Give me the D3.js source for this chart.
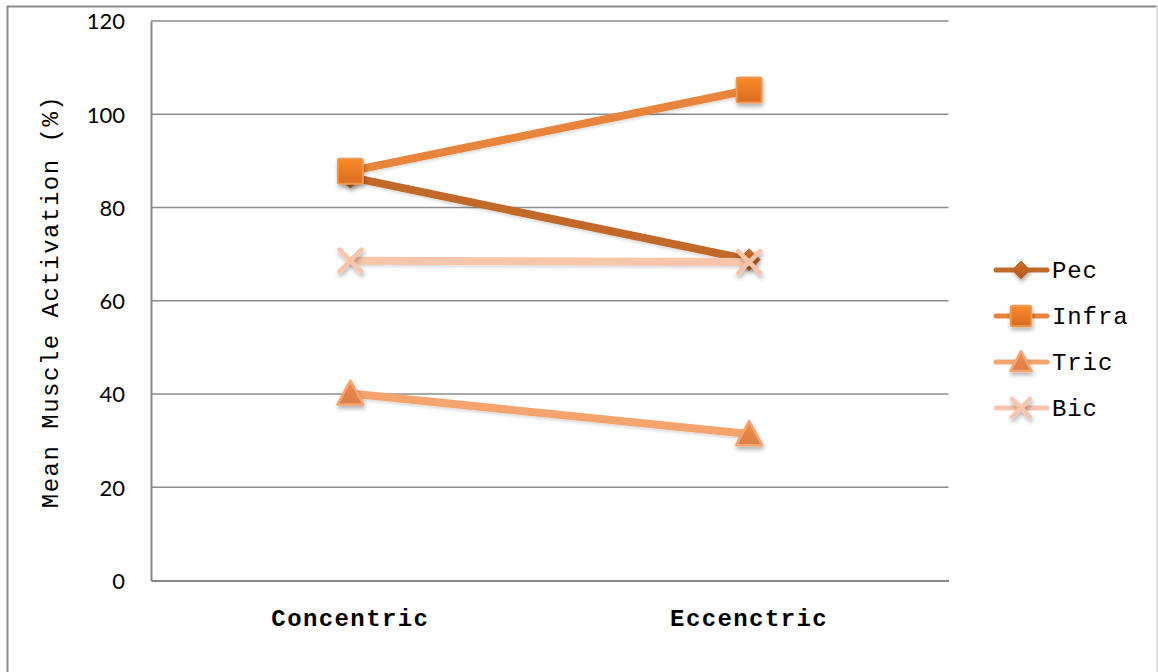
<!DOCTYPE html>
<html>
<head>
<meta charset="utf-8">
<script src="https://cdn.jsdelivr.net/npm/d3@7"></script>
<style>
html,body{margin:0;padding:0;background:#fff;}
svg{display:block;}
</style>
</head>
<body>
<svg id="chart" width="1158" height="672"></svg>
<script>
const categories = ["Concentric", "Eccentric"];
const categoryLabels = ["Concentric", "Eccenctric"];
const seriesNames = ["Pec", "Infra", "Tric", "Bic"];
const pecValues = [86.5, 68.8];
const infraValues = [87.8, 105.2];
const tricValues = [40.1, 31.4];
const bicValues = [68.6, 68.3];
const yTicks = [0, 20, 40, 60, 80, 100, 120];
const yTitle = "Mean Muscle Activation (%)";

const series = [
  {name: seriesNames[0], values: pecValues, color: "#C2692C", marker: "diamond"},
  {name: seriesNames[1], values: infraValues, color: "#E8843A", marker: "square"},
  {name: seriesNames[2], values: tricValues, color: "#F5A46E", marker: "triangle"},
  {name: seriesNames[3], values: bicValues, color: "#F7C5AA", marker: "cross"}
];

const svg = d3.select("#chart");
const mLeft = 151, mRight = 948.5, mTop = 21, mBottom = 580.5;
const mono = "'Liberation Mono', 'Courier New', monospace";

const defs = svg.append("defs");
const f = defs.append("filter").attr("id", "shadow").attr("x", "-50%").attr("y", "-50%").attr("width", "200%").attr("height", "200%");
f.append("feDropShadow").attr("dx", 1).attr("dy", 3).attr("stdDeviation", 2).attr("flood-color", "#000").attr("flood-opacity", 0.3);
const fl = defs.append("filter").attr("id", "lshadow").attr("filterUnits", "userSpaceOnUse")
  .attr("x", 0).attr("y", 0).attr("width", 1158).attr("height", 672);
fl.append("feDropShadow").attr("dx", 0).attr("dy", 2).attr("stdDeviation", 1.5).attr("flood-color", "#000").attr("flood-opacity", 0.15);

const gradSq = defs.append("linearGradient").attr("id", "gSq").attr("x1", 0).attr("y1", 0).attr("x2", 0).attr("y2", 1);
gradSq.append("stop").attr("offset", "0%").attr("stop-color", "#F98B2A");
gradSq.append("stop").attr("offset", "100%").attr("stop-color", "#D96C1F");
const gradDi = defs.append("linearGradient").attr("id", "gDi").attr("x1", 0).attr("y1", 0).attr("x2", 0).attr("y2", 1);
gradDi.append("stop").attr("offset", "0%").attr("stop-color", "#D06D24");
gradDi.append("stop").attr("offset", "100%").attr("stop-color", "#B25A1E");
const gradTr = defs.append("linearGradient").attr("id", "gTr").attr("x1", 0).attr("y1", 0).attr("x2", 0).attr("y2", 1);
gradTr.append("stop").attr("offset", "0%").attr("stop-color", "#F08A4A");
gradTr.append("stop").attr("offset", "100%").attr("stop-color", "#DA7E48");

// outer frame
svg.append("path").attr("d", "M7.5,672 L7.5,6.5 L1157,6.5")
  .attr("fill", "none").attr("stroke", "#8a8a8a").attr("stroke-width", 2);
svg.append("line").attr("x1", 1157).attr("x2", 1157).attr("y1", 6).attr("y2", 672)
  .attr("stroke", "#d9d9d9").attr("stroke-width", 1.5);

const x = d3.scaleBand().domain(categories).range([mLeft, mRight]);
const y = d3.scaleLinear().domain([0, 120]).range([mBottom, mTop]);

// gridlines
svg.append("g").selectAll("line").data(yTicks.filter(d => d > 0)).join("line")
  .attr("x1", mLeft).attr("x2", mRight)
  .attr("y1", d => y(d)).attr("y2", d => y(d))
  .attr("stroke", "#8c8c8c").attr("stroke-width", 1.6);

// y axis
const yAxis = svg.append("g").attr("transform", `translate(${mLeft},0)`)
  .call(d3.axisLeft(y).tickValues(yTicks).tickSize(0).tickPadding(26));
yAxis.select(".domain").attr("stroke", "#868686").attr("stroke-width", 2);
yAxis.selectAll("text").attr("font-family", "Lato, 'Liberation Sans', sans-serif")
  .attr("font-size", 22).attr("fill", "#000").attr("dy", "0.36em");

// x axis
const xAxis = svg.append("g").attr("transform", `translate(0,${mBottom})`)
  .call(d3.axisBottom(x).tickSize(0).tickPadding(26).tickFormat((d, i) => categoryLabels[i]));
xAxis.select(".domain").attr("stroke", "#868686").attr("stroke-width", 2.2);
xAxis.selectAll("text").attr("font-family", mono)
  .attr("font-size", 24).attr("font-weight", "bold").attr("fill", "#000")
  .attr("letter-spacing", 1.4).attr("dy", "0.8em");

// y title
svg.append("text")
  .attr("transform", `translate(58,${(95 + 508) / 2}) rotate(-90)`)
  .attr("text-anchor", "middle")
  .attr("font-family", mono)
  .attr("font-size", 24)
  .attr("letter-spacing", 1.5)
  .attr("fill", "#000")
  .text(yTitle);

const cx = d => x(d) + x.bandwidth() / 2;

function drawMarker(g, type, color, px, py, scale) {
  const s = scale || 1;
  if (type === "diamond") {
    const r = 11 * s;
    g.append("path").attr("d", `M${px},${py - r} L${px + r},${py} L${px},${py + r} L${px - r},${py} Z`)
      .attr("fill", "url(#gDi)").attr("stroke", "#C06A2E").attr("stroke-width", 1)
      .attr("filter", "url(#shadow)");
  } else if (type === "square") {
    const h = 12.5 * s;
    g.append("rect").attr("x", px - h).attr("y", py - h).attr("width", 2 * h).attr("height", 2 * h)
      .attr("rx", 2).attr("fill", "url(#gSq)").attr("stroke", "#EF9650").attr("stroke-width", 2)
      .attr("filter", "url(#shadow)");
  } else if (type === "triangle") {
    const h = 13 * s;
    g.append("path").attr("d", `M${px},${py - h} L${px + h},${py + h * 0.85} L${px - h},${py + h * 0.85} Z`)
      .attr("fill", "url(#gTr)").attr("stroke", "#F5A46E").attr("stroke-width", 2.5).attr("stroke-linejoin", "round")
      .attr("filter", "url(#shadow)");
  } else if (type === "cross") {
    const r = 11 * s;
    g.append("path").attr("d", `M${px - r},${py - r} L${px + r},${py + r} M${px + r},${py - r} L${px - r},${py + r}`)
      .attr("stroke", color).attr("stroke-width", 4.5).attr("stroke-linecap", "round").attr("fill", "none")
      .attr("filter", "url(#shadow)");
  }
}

const line = d3.line().x((d, i) => cx(categories[i])).y(d => y(d));
const plot = svg.append("g");
series.forEach(s => {
  const g = plot.append("g");
  g.append("path").datum(s.values).attr("d", line)
    .attr("fill", "none").attr("stroke", s.color).attr("stroke-width", 8)
    .attr("filter", "url(#lshadow)");
  s.values.forEach((v, i) => drawMarker(g, s.marker, s.color, cx(categories[i]), y(v), 1));
});

// legend
const legend = svg.append("g");
const legY = d3.scalePoint().domain(seriesNames).range([270, 408]);
series.forEach(s => {
  const ly = legY(s.name);
  const g = legend.append("g");
  g.append("line").attr("x1", 996).attr("x2", 1047).attr("y1", ly).attr("y2", ly)
    .attr("stroke", s.color).attr("stroke-width", 5).attr("stroke-linecap", "round");
  drawMarker(g, s.marker, s.color, 1021, ly, 0.82);
  g.append("text").attr("x", 1052).attr("y", ly).attr("dy", "0.35em")
    .attr("font-family", mono)
    .attr("font-size", 24).attr("letter-spacing", 0.9).attr("fill", "#000")
    .text(s.name);
});
</script>
</body>
</html>
